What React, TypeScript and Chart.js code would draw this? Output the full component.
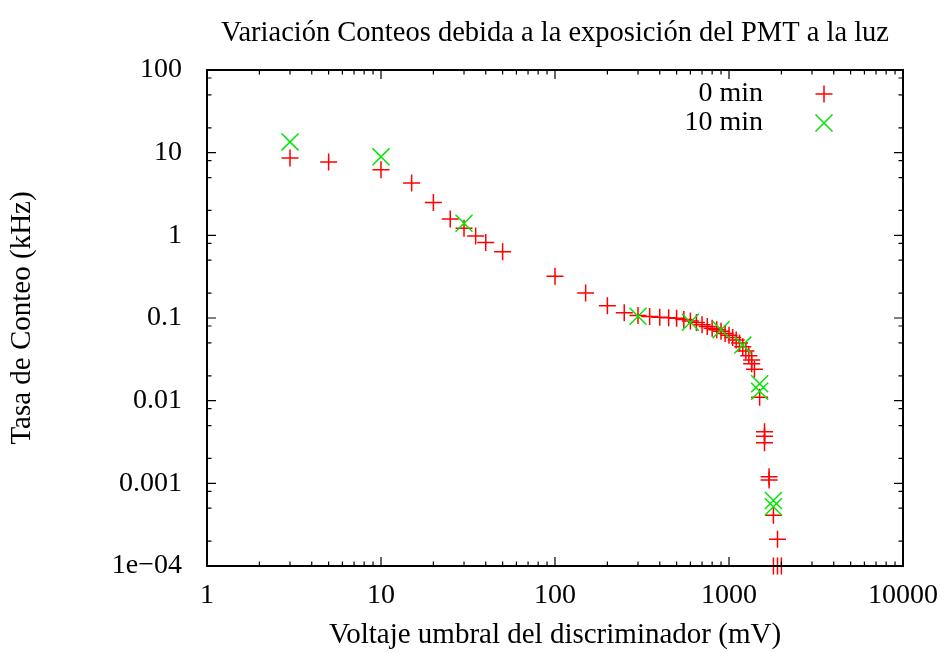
import React, { useEffect, useRef } from "react";
import { Chart, registerables } from "chart.js";

Chart.register(...registerables);

const chartTitle = "Variación Conteos debida a la exposición del PMT a la luz";
const xAxisTitle = "Voltaje umbral del discriminador (mV)";
const yAxisTitle = "Tasa de Conteo (kHz)";

const series0Label = "0 min";
const series0X = [3, 5, 10, 15, 20, 25, 30, 35, 40, 50, 100, 150, 200, 250, 300, 350, 400, 450, 500, 550, 600, 650, 700, 750, 800, 850, 900, 950, 1000, 1050, 1100, 1150, 1200, 1250, 1300, 1350, 1350, 1400, 1500, 1600, 1600, 1600, 1700, 1700, 1800, 1900, 1800, 1900, 2000];
const series0Y = [8.6, 7.7, 6.2, 4.3, 2.5, 1.58, 1.22, 0.98, 0.82, 0.635, 0.32, 0.2, 0.141, 0.116, 0.107, 0.104, 0.102, 0.101, 0.099, 0.096, 0.092, 0.088, 0.083, 0.079, 0.075, 0.072, 0.069, 0.065, 0.062, 0.058, 0.054, 0.05, 0.045, 0.04, 0.035, 0.031, 0.028, 0.024, 0.011, 0.0042, 0.0037, 0.0031, 0.0012, 0.0011, 0.00041, 0.00021, 0.0001, 0.0001, 0.0001];

const series10Label = "10 min";
const series10X = [3, 10, 30, 300, 600, 900, 1200, 1500, 1500, 1800, 1800];
const series10Y = [13.5, 8.9, 1.4, 0.105, 0.089, 0.072, 0.047, 0.016, 0.013, 0.00062, 0.00052];

const xTickValues = [1, 10, 100, 1000, 10000];
const xTickLabels = ["1", "10", "100", "1000", "10000"];
const yTickValues = [0.0001, 0.001, 0.01, 0.1, 1, 10, 100];
const yTickLabels = ["1e\u221204", "0.001", "0.01", "0.1", "1", "10", "100"];
const xMinorMultipliers = [2, 3, 4, 5, 6, 7, 8, 9];
const yMinorMultipliers = [2, 5, 8];

const RED = "#ff0000";
const GREEN = "#00e600";
const FONT = "'Liberation Serif', 'DejaVu Serif', serif";

const framePlugin = {
  id: "gnuFrame",
  afterDatasetsDraw(chart: any) {
    const { ctx, chartArea } = chart;
    const { left, right, top, bottom } = chartArea;
    const xs = chart.scales.x;
    const ys = chart.scales.y;
    ctx.save();
    ctx.strokeStyle = "#000";
    ctx.lineWidth = 1.2;
    const major = 9;
    const minor = 4.5;
    ctx.beginPath();
    xTickValues.forEach((d, i) => {
      const px = xs.getPixelForValue(d);
      ctx.moveTo(px, bottom); ctx.lineTo(px, bottom - major);
      ctx.moveTo(px, top); ctx.lineTo(px, top + major);
      if (i < xTickValues.length - 1) {
        xMinorMultipliers.forEach((m) => {
          const p = xs.getPixelForValue(d * m);
          ctx.moveTo(p, bottom); ctx.lineTo(p, bottom - minor);
          ctx.moveTo(p, top); ctx.lineTo(p, top + minor);
        });
      }
    });
    yTickValues.forEach((d, i) => {
      const py = ys.getPixelForValue(d);
      ctx.moveTo(left, py); ctx.lineTo(left + major, py);
      ctx.moveTo(right, py); ctx.lineTo(right - major, py);
      if (i < yTickValues.length - 1) {
        yMinorMultipliers.forEach((m) => {
          const p = ys.getPixelForValue(d * m);
          ctx.moveTo(left, p); ctx.lineTo(left + minor, p);
          ctx.moveTo(right, p); ctx.lineTo(right - minor, p);
        });
      }
    });
    ctx.stroke();
    ctx.lineWidth = 2;
    ctx.strokeRect(left, top, right - left, bottom - top);

    // legend (gnuplot style: right-aligned text, sample to the right)
    const ds = chart.data.datasets;
    ctx.font = `28px ${FONT}`;
    ctx.fillStyle = "#000";
    ctx.textAlign = "right";
    ctx.textBaseline = "middle";
    const textX = right - 140;
    const markX = right - 79;
    const rows = [top + 24, top + 53];
    ctx.fillText(ds[0].label, textX, rows[0]);
    ctx.fillText(ds[1].label, textX, rows[1]);
    ctx.lineWidth = 1.5;
    ctx.strokeStyle = ds[0].borderColor;
    ctx.beginPath();
    const r0 = ds[0].pointRadius;
    ctx.moveTo(markX - r0, rows[0]); ctx.lineTo(markX + r0, rows[0]);
    ctx.moveTo(markX, rows[0] - r0); ctx.lineTo(markX, rows[0] + r0);
    ctx.stroke();
    ctx.strokeStyle = ds[1].borderColor;
    ctx.beginPath();
    const r1 = ds[1].pointRadius * Math.SQRT1_2;
    ctx.moveTo(markX - r1, rows[1] - r1); ctx.lineTo(markX + r1, rows[1] + r1);
    ctx.moveTo(markX - r1, rows[1] + r1); ctx.lineTo(markX + r1, rows[1] - r1);
    ctx.stroke();
    ctx.restore();
  },
};

export default function App() {
  const canvasRef = useRef<HTMLCanvasElement | null>(null);

  useEffect(() => {
    if (!canvasRef.current) return;
    const chart = new Chart(canvasRef.current, {
      type: "scatter",
      data: {
        datasets: [
          {
            label: series0Label,
            data: series0X.map((x, i) => ({ x, y: series0Y[i] })),
            pointStyle: "cross",
            pointRadius: 8.5,
            pointHoverRadius: 8.5,
            borderColor: RED,
            backgroundColor: RED,
            borderWidth: 1.5,
            showLine: false,
            clip: false,
            order: 1,
          } as any,
          {
            label: series10Label,
            data: series10X.map((x, i) => ({ x, y: series10Y[i] })),
            pointStyle: "crossRot",
            pointRadius: 12,
            pointHoverRadius: 12,
            borderColor: GREEN,
            backgroundColor: GREEN,
            borderWidth: 1.5,
            showLine: false,
            clip: false,
            order: 0,
          } as any,
        ],
      },
      options: {
        responsive: false,
        animation: false,
        events: [],
        layout: { padding: { left: 0, right: 43, top: 0, bottom: 0 } },
        plugins: {
          legend: { display: false },
          tooltip: { enabled: false },
          title: {
            display: true,
            text: chartTitle,
            fullSize: false,
            color: "#000",
            font: { family: FONT, size: 28.5, weight: "normal" },
            padding: { top: 16, bottom: 19.8 },
          },
        },
        scales: {
          x: {
            type: "logarithmic",
            min: 1,
            max: 10000,
            afterBuildTicks: (scale: any) => {
              scale.ticks = xTickValues.map((v) => ({ value: v }));
            },
            afterFit: (scale: any) => {
              scale.height = 87;
              scale.paddingLeft = 0;
              scale.paddingRight = 0;
            },
            grid: { display: false, drawTicks: false },
            border: { display: false },
            ticks: {
              color: "#000",
              font: { family: FONT, size: 28 },
              padding: 13,
              maxRotation: 0,
              autoSkip: false,
              callback: (v: any) => {
                const i = xTickValues.indexOf(Number(v));
                return i >= 0 ? xTickLabels[i] : "";
              },
            },
            title: {
              display: true,
              text: xAxisTitle,
              color: "#000",
              font: { family: FONT, size: 29 },
              padding: { top: 0, bottom: 0 },
            },
          },
          y: {
            type: "logarithmic",
            min: 0.0001,
            max: 100,
            afterBuildTicks: (scale: any) => {
              scale.ticks = yTickValues.map((v) => ({ value: v }));
            },
            afterFit: (scale: any) => {
              scale.width = 207;
              scale.paddingTop = 0;
              scale.paddingBottom = 0;
            },
            grid: { display: false, drawTicks: false },
            border: { display: false },
            ticks: {
              color: "#000",
              font: { family: FONT, size: 28 },
              padding: 25,
              autoSkip: false,
              callback: (v: any) => {
                const i = yTickValues.findIndex((t) => Math.abs(t - Number(v)) / t < 1e-6);
                return i >= 0 ? yTickLabels[i] : "";
              },
            },
            title: {
              display: true,
              text: yAxisTitle,
              color: "#000",
              font: { family: FONT, size: 29 },
              padding: { top: 4.6, bottom: 0 },
            },
          },
        },
      },
      plugins: [framePlugin],
    });
    return () => chart.destroy();
  }, []);

  return (
    <div style={{ position: "absolute", left: 0, top: 0, width: 946, height: 653, background: "#fff" }}>
      <canvas ref={canvasRef} width={946} height={653} />
    </div>
  );
}
